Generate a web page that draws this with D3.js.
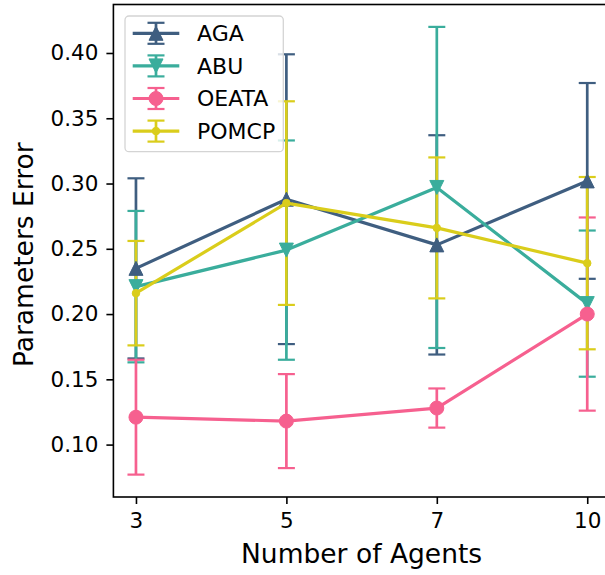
<!DOCTYPE html>
<html>
<head>
<meta charset="utf-8">
<script src="https://cdn.jsdelivr.net/npm/d3@7"></script>
<style>
  body { margin: 0; background: #fff; }
  text { font-family: "DejaVu Sans", sans-serif; fill: #000; }
</style>
</head>
<body>
<svg id="chart" width="605" height="575"></svg>
<script>
// Number of agents on the x axis
const categories = ["3", "5", "7", "10"];

// Mean parameter error and symmetric error-bar half-widths per method
const agaMean   = [0.235, 0.288, 0.253, 0.302];
const agaErr    = [0.069, 0.111, 0.084, 0.075];
const abuMean   = [0.221, 0.249, 0.297, 0.208];
const abuErr    = [0.058, 0.084, 0.123, 0.056];
const oeataMean = [0.121, 0.118, 0.128, 0.200];
const oeataErr  = [0.044, 0.036, 0.015, 0.074];
const pomcpMean = [0.216, 0.285, 0.266, 0.239];
const pomcpErr  = [0.040, 0.078, 0.054, 0.066];

const yTicks = [0.10, 0.15, 0.20, 0.25, 0.30, 0.35, 0.40];

const series = [
  { name: "AGA",   mean: agaMean,   err: agaErr,   color: "#3f5e80", marker: "up",     size: 14 },
  { name: "ABU",   mean: abuMean,   err: abuErr,   color: "#3aad9c", marker: "down",   size: 14 },
  { name: "OEATA", mean: oeataMean, err: oeataErr, color: "#f6608f", marker: "circle", size: 14 },
  { name: "POMCP", mean: pomcpMean, err: pomcpErr, color: "#dacd1b", marker: "point",  size: 7.5 }
];

const svg = d3.select("#chart");
const plot = { left: 113.4, right: 609.8, top: 4.5, bottom: 497 };

// categorical positions with a 5% margin on each side
const x = d3.scaleLinear()
  .domain([-0.15, categories.length - 1 + 0.15])
  .range([plot.left, plot.right]);

const lows  = series.flatMap(s => s.mean.map((m, i) => m - s.err[i]));
const highs = series.flatMap(s => s.mean.map((m, i) => m + s.err[i]));
const lo = d3.min(lows), hi = d3.max(highs), pad = (hi - lo) * 0.05;
const y = d3.scaleLinear().domain([lo - pad, hi + pad]).range([plot.bottom, plot.top]);

const FONT_TICK = 21.5, FONT_LABEL = 26.5, FONT_LEGEND = 22;
const CAP = 8.5, LINE_W = 3.2, BAR_W = 2.7;

// axes
const yAxis = d3.axisLeft(y).tickValues(yTicks).tickFormat(d3.format(".2f"))
  .tickSize(7).tickPadding(8);
const gy = svg.append("g").attr("transform", `translate(${plot.left},0)`).call(yAxis);
gy.select(".domain").remove();
gy.selectAll(".tick line").attr("stroke", "#000").attr("stroke-width", 1.6);
gy.selectAll(".tick text").style("font-size", FONT_TICK + "px")
  .style("font-family", '"DejaVu Sans", sans-serif');

const xAxis = d3.axisBottom(x).tickValues(d3.range(categories.length))
  .tickFormat(i => categories[i]).tickSize(7).tickPadding(9);
const gx = svg.append("g").attr("transform", `translate(0,${plot.bottom})`).call(xAxis);
gx.select(".domain").remove();
gx.selectAll(".tick line").attr("stroke", "#000").attr("stroke-width", 1.6);
gx.selectAll(".tick text").style("font-size", FONT_TICK + "px")
  .style("font-family", '"DejaVu Sans", sans-serif');

// frame
svg.append("rect")
  .attr("x", plot.left).attr("y", plot.top)
  .attr("width", plot.right - plot.left).attr("height", plot.bottom - plot.top)
  .attr("fill", "none").attr("stroke", "#000").attr("stroke-width", 1.6);

// axis titles
svg.append("text")
  .attr("x", (plot.left + plot.right) / 2).attr("y", 562.5)
  .attr("text-anchor", "middle").style("font-size", FONT_LABEL + "px")
  .text("Number of Agents");
svg.append("text")
  .attr("transform", `translate(33,${(plot.top + plot.bottom) / 2 + 4}) rotate(-90)`)
  .attr("text-anchor", "middle").style("font-size", FONT_LABEL + "px")
  .text("Parameters Error");

function markerPath(type, s) {
  const h = s / 2;
  if (type === "up")   return `M0,${-h}L${h},${h}L${-h},${h}Z`;
  if (type === "down") return `M0,${h}L${h},${-h}L${-h},${-h}Z`;
  return d3.arc()({ innerRadius: 0, outerRadius: h, startAngle: 0, endAngle: 2 * Math.PI });
}

// error bars (below all data lines)
const bars = svg.append("g");
series.forEach(s => {
  const g = bars.append("g");
  s.mean.forEach((m, i) => {
    const cx = x(i), y0 = y(m - s.err[i]), y1 = y(m + s.err[i]);
    g.append("line").attr("x1", cx).attr("x2", cx).attr("y1", y0).attr("y2", y1)
      .attr("stroke", s.color).attr("stroke-width", BAR_W);
    [y0, y1].forEach(cy => g.append("line")
      .attr("x1", cx - CAP).attr("x2", cx + CAP).attr("y1", cy).attr("y2", cy)
      .attr("stroke", s.color).attr("stroke-width", 2.2));
  });
});

// data lines with markers
const line = d3.line().x((d, i) => x(i)).y(d => y(d));
series.forEach(s => {
  const g = svg.append("g");
  g.append("path").attr("d", line(s.mean)).attr("fill", "none")
    .attr("stroke", s.color).attr("stroke-width", LINE_W).attr("stroke-linejoin", "round");
  s.mean.forEach((m, i) => {
    g.append("path").attr("d", markerPath(s.marker, s.size))
      .attr("transform", `translate(${x(i)},${y(m)})`)
      .attr("fill", s.color).attr("stroke", s.color).attr("stroke-width", 1);
  });
});

// legend
const lg = svg.append("g");
lg.append("rect").attr("x", 125).attr("y", 16).attr("width", 158.3).attr("height", 135.7)
  .attr("rx", 4).attr("fill", "#fff").attr("fill-opacity", 0.8)
  .attr("stroke", "#d4d4d4").attr("stroke-width", 1.3);
const rowY = [33.3, 65.9, 98.5, 131.1];
series.forEach((s, k) => {
  const cy = rowY[k], cx = 156;
  lg.append("line").attr("x1", cx).attr("x2", cx).attr("y1", cy - 10.5).attr("y2", cy + 10.5)
    .attr("stroke", s.color).attr("stroke-width", BAR_W);
  [cy - 10.5, cy + 10.5].forEach(yy => lg.append("line")
    .attr("x1", cx - CAP).attr("x2", cx + CAP).attr("y1", yy).attr("y2", yy)
    .attr("stroke", s.color).attr("stroke-width", 2.2));
  lg.append("line").attr("x1", 132.7).attr("x2", 179.3).attr("y1", cy).attr("y2", cy)
    .attr("stroke", s.color).attr("stroke-width", LINE_W);
  lg.append("path").attr("d", markerPath(s.marker, s.size))
    .attr("transform", `translate(${cx},${cy})`)
    .attr("fill", s.color).attr("stroke", s.color).attr("stroke-width", 1);
  lg.append("text").attr("x", 197).attr("y", cy).attr("dy", "0.36em")
    .style("font-size", FONT_LEGEND + "px").text(s.name);
});
</script>
</body>
</html>
